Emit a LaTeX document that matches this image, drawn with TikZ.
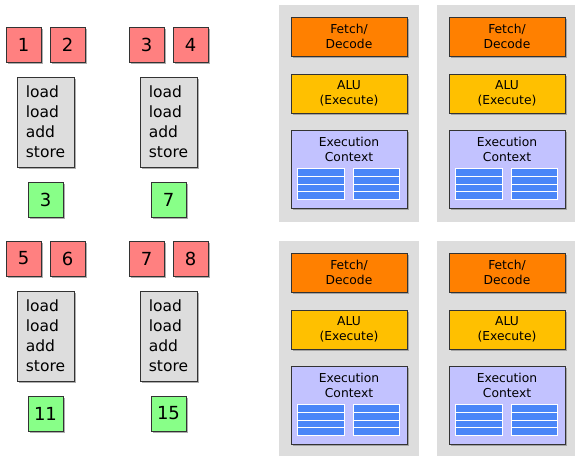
\documentclass[tikz,border=0pt]{standalone}
\usepackage{fontspec}
\setmainfont{DejaVu Sans}
\usetikzlibrary{shadows}
\definecolor{inred}{HTML}{FF8080}
\definecolor{outgreen}{HTML}{88FF88}
\definecolor{codegray}{HTML}{DDDDDD}
\definecolor{coregray}{HTML}{DDDDDD}
\definecolor{fetchorange}{HTML}{FF8000}
\definecolor{aluyellow}{HTML}{FFC000}
\definecolor{ctxblue}{HTML}{C2C2FF}
\definecolor{regblue}{HTML}{4A86F8}
\definecolor{edge}{HTML}{333333}
\tikzset{
  shad/.style={drop shadow={shadow xshift=1.6pt,shadow yshift=-1.6pt,fill=black!45,opacity=0.7}},
  box/.style={draw=edge,line width=0.9pt,inner sep=0pt,shad},
  inbox/.style={box,fill=inred,minimum width=35pt,minimum height=35pt,font=\fontsize{18}{20}\selectfont},
  outbox/.style={box,fill=outgreen,minimum width=35pt,minimum height=35pt,font=\fontsize{18}{20}\selectfont},
  codebox/.style={box,fill=codegray,minimum width=57pt,minimum height=90pt,align=left,font=\fontsize{15.5}{20}\selectfont},
  unit/.style={box,minimum width=116pt,align=center,font=\fontsize{12.3}{15}\selectfont},
  reg/.style={fill=regblue,draw=white,line width=0.7pt}
}
\begin{document}
\begin{tikzpicture}[x=1pt,y=-1pt]
\useasboundingbox (0,0) rectangle (575,455);
\clip (0,0) rectangle (575,455);
\fill[white] (0,0) rectangle (575,455);

% instruction streams: inputs, program, result
\foreach \gx/\gy/\a/\b/\r/\g in {0/0/1/2/3/a,123/0/3/4/7/b,0/214/5/6/11/c,123/214/7/8/15/d}{
  \begin{scope}[shift={(\gx,\gy)}]
    \node[inbox] (in\g1) at (23.5,44.5) {\a};
    \node[inbox] (in\g2) at (67.5,44.5) {\b};
    \node[codebox] (code\g) at (45.5,122) {load\\load\\add\\store};
    \node[outbox] (out\g) at (45.5,199.5) {\r};
  \end{scope}
}

% four cores
\foreach \cx/\cy/\c in {0/0/a,158/0/b,0/236/c,158/236/d}{
  \begin{scope}[shift={(\cx,\cy)}]
    \fill[coregray] (279,5) rectangle (419,222);
    \node[unit,fill=fetchorange,minimum height=39pt] (fetch\c) at (349,36.5) {Fetch/\\Decode};
    \node[unit,fill=aluyellow,minimum height=39pt] (alu\c) at (349,93.5) {ALU\\(Execute)};
    \node[box,fill=ctxblue,minimum width=116pt,minimum height=78pt] (ctx\c) at (349,169) {};
    \node[align=center,font=\fontsize{12.3}{15}\selectfont,inner sep=0pt] (ctxlabel\c) at (349,149) {Execution\\Context};
    \foreach \k in {0,1,2,3}{
      \draw[reg] (297.3,168.7+7.6*\k) rectangle (344.3,176.3+7.6*\k);
      \draw[reg] (353.3,168.7+7.6*\k) rectangle (399.7,176.3+7.6*\k);
    }
  \end{scope}
}
\end{tikzpicture}
\end{document}
